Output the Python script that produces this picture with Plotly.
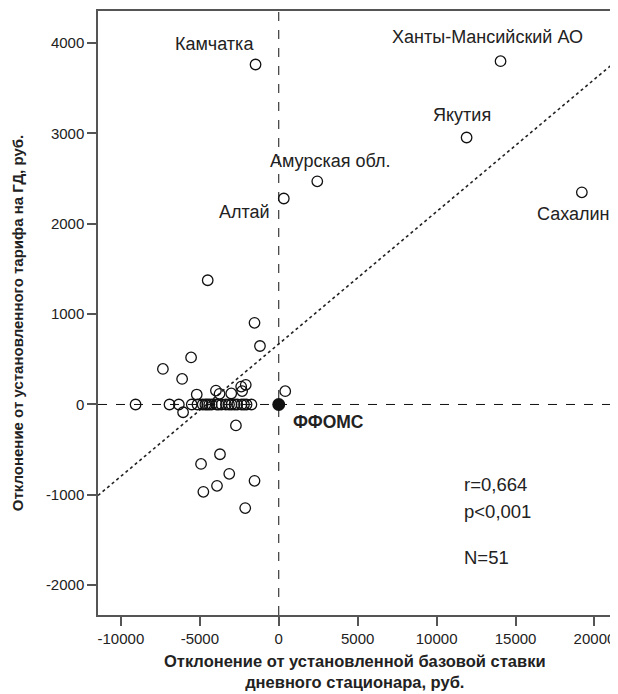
import plotly.graph_objects as go

# ---------------- data ----------------
label_names = ["Камчатка", "Ханты-Мансийский АО", "Якутия", "Амурская обл.", "Алтай", "Сахалин"]
label_x = [-1470, 14050, 11900, 2440, 320, 19200]
label_y = [3763, 3800, 2955, 2470, 2280, 2348]

other_x = [-4500, -1535, -1190, -5553, -7339, -6121,
           -5195, -3980, -3750, -3010, -2380, -2090, -2320, 410,
           -6060, -2713, -3723, -4922, -3136, -1535, -3912, -4776, -2124,
           -9070, -6920, -6330, -5510, -5150, -4820, -4530, -4250, -3930, -3620, -3350,
           -2990, -2630, -2360, -2040, -1730, -4400, -3800, -3150, -2800, -2200, -4650]
other_y = [1375, 904, 647, 521, 394, 283,
           110, 154, 118, 122, 198, 217, 148, 147,
           -86, -232, -551, -658, -768, -845, -900, -967, -1147,
           0, 0, 0, 0, 0, 0, 0, 0, 0, 0, 0,
           0, 0, 0, 0, 0, 0, 0, 0, 0, 0, 0]

ffoms_x = [0]
ffoms_y = [0]
ffoms_label = "ФФОМС"

reg_intercept = 670
reg_slope = 0.1465

stats_lines = ["r=0,664", "p<0,001", "N=51"]

x_ticks = [-10000, -5000, 0, 5000, 10000, 15000, 20000]
x_tick_text = ["-10000", "-5000", "0", "5000", "10000", "15000", "20000"]
y_ticks = [-2000, -1000, 0, 1000, 2000, 3000, 4000]
y_tick_text = ["-2000", "-1000", "0", "1000", "2000", "3000", "4000"]

x_range = [-11450, 21300]
y_range = [-2330, 4355]

x_title = "Отклонение от установленной базовой ставки<br>дневного стационара, руб."
y_title = "Отклонение от установленного тарифа на ГД, руб."

# label placements (data coords of text centres)
label_pos_x = [-4040, 13200, 11630, 3220, -2150, 18680]
label_pos_y = [3990, 4068, 3205, 2690, 2128, 2103]
stats_pos_x = 11580
stats_pos_y = [-882, -1187, -1698]

FONT = "Liberation Sans"

fig = go.Figure()

# regression line (dotted)
fig.add_trace(go.Scatter(
    x=x_range, y=[reg_intercept + reg_slope * v for v in x_range],
    mode="lines", line=dict(color="#222", width=1.6, dash="dot"),
    hoverinfo="skip", showlegend=False))

# all hollow points
fig.add_trace(go.Scatter(
    x=label_x + other_x, y=label_y + other_y, mode="markers",
    marker=dict(symbol="circle-open", size=10.5, color="#111", line=dict(width=1.3)),
    showlegend=False))

# FFOMS point
fig.add_trace(go.Scatter(
    x=ffoms_x, y=ffoms_y, mode="markers",
    marker=dict(symbol="circle", size=13, color="#111"),
    showlegend=False))

# dashed reference lines
fig.add_shape(type="line", xref="x", yref="paper", x0=0, x1=0, y0=0, y1=1,
              line=dict(color="#111", width=1, dash="dash"), layer="below")
fig.add_shape(type="line", xref="paper", yref="y", x0=0, x1=1, y0=0, y1=0,
              line=dict(color="#111", width=1, dash="dash"), layer="below")

# point labels
for name, px, py in zip(label_names, label_pos_x, label_pos_y):
    fig.add_annotation(x=px, y=py, text=name, showarrow=False,
                       font=dict(family=FONT, size=18, color="#222"))

fig.add_annotation(x=800, y=-190, text="<b>" + ffoms_label + "</b>", showarrow=False,
                   xanchor="left", font=dict(family=FONT, size=17.5, color="#222"))

for txt, yy in zip(stats_lines, stats_pos_y):
    fig.add_annotation(x=stats_pos_x, y=yy, text=txt, showarrow=False, xanchor="left",
                       font=dict(family=FONT, size=18.5, color="#222"))

# page has an 8px body margin: figure origin sits at page (8, 8)
OFF = 8
W, H = 618 - OFF, 694 - OFF
L, R, T, B = 98 - OFF, 1, 1, 79
pw, ph = W - L - R, H - T - B

def px2paper(px, py):
    return (px - OFF - L) / pw, (H - B - (py - OFF)) / ph

ax, ay = px2paper(356, 672)
fig.add_annotation(xref="paper", yref="paper", x=ax, y=ay, text="<b>" + x_title + "</b>",
                   xanchor="center", yanchor="middle",
                   showarrow=False, font=dict(family=FONT, size=16.5, color="#222"))
ax, ay = px2paper(18, 322)
fig.add_annotation(xref="paper", yref="paper", x=ax, y=ay, text="<b>" + y_title + "</b>",
                   xanchor="center", yanchor="middle",
                   showarrow=False, textangle=-90, font=dict(family=FONT, size=15, color="#222"))

axis_common = dict(showgrid=False, zeroline=False, showline=True, linecolor="#555",
                   linewidth=1.5, mirror=True, ticks="outside", ticklen=9, tickwidth=1.5,
                   tickcolor="#555", tickfont=dict(family=FONT, size=15, color="#222"))

fig.update_xaxes(range=x_range, tickvals=x_ticks, ticktext=x_tick_text, **axis_common)
fig.update_yaxes(range=y_range, tickvals=y_ticks, ticktext=y_tick_text, **axis_common)

fig.update_layout(width=W, height=H, margin=dict(l=L, r=R, t=T, b=B),
                  plot_bgcolor="white", paper_bgcolor="white", showlegend=False)

fig.write_html("out.html")
